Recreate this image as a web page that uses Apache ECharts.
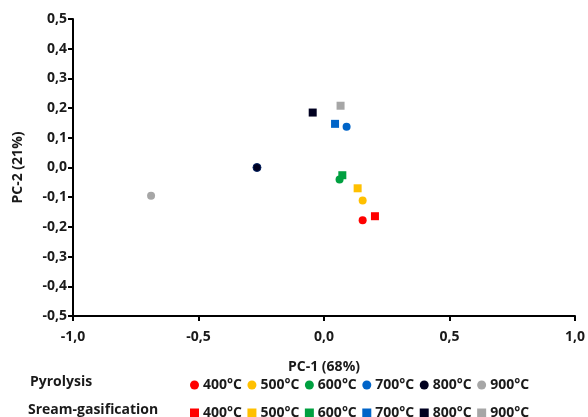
<!DOCTYPE html>
<html>
<head>
<meta charset="utf-8">
<script src="https://cdn.jsdelivr.net/npm/echarts@6/dist/echarts.min.js"></script>
<style>
  html, body { margin: 0; padding: 0; background: #fff; }
  #chart { width: 588px; height: 417px; }
</style>
</head>
<body>
<div id="chart"></div>
<script>
const temps = ['400°C', '500°C', '600°C', '700°C', '800°C', '900°C'];
const colors = ['#ff0000', '#ffc000', '#00a040', '#0064c8', '#000020', '#a6a6a6'];
// PC-1, PC-2 per temperature
const pyrolysis = [
  [0.154, -0.178],
  [0.154, -0.111],
  [0.062, -0.040],
  [0.090, 0.137],
  [-0.267, 0.0],
  [-0.689, -0.095]
];
const gasification = [
  [0.203, -0.164],
  [0.134, -0.070],
  [0.073, -0.026],
  [0.044, 0.147],
  [-0.045, 0.185],
  [0.066, 0.208]
];
const xTicks = [-1.0, -0.5, 0.0, 0.5, 1.0];
const yTicks = [-0.5, -0.4, -0.3, -0.2, -0.1, 0.0, 0.1, 0.2, 0.3, 0.4, 0.5];

const chart = echarts.init(document.getElementById('chart'));
const font = '"Open Sans", "Liberation Sans", sans-serif';
const txt = '#1a1a1a';
const comma = v => v.toFixed(1).replace('.', ',');

let series = [];
temps.forEach((t, i) => {
  series.push({
    name: 'P ' + t,
    type: 'scatter',
    symbol: 'circle',
    symbolSize: 8,
    itemStyle: {color: colors[i], opacity: 1, borderColor: i === 4 ? '#002060' : colors[i], borderWidth: i === 4 ? 1 : 0},
    emphasis: {disabled: true},
    data: [pyrolysis[i]],
    z: 3
  });
  series.push({
    name: 'G ' + t,
    type: 'scatter',
    symbol: 'rect',
    symbolSize: 8,
    itemStyle: {color: colors[i], opacity: 1},
    emphasis: {disabled: true},
    data: [gasification[i]],
    z: 2
  });
});

const legendBase = {
  orient: 'horizontal',
  left: 185,
  itemWidth: 9,
  itemHeight: 9,
  itemGap: 5.5,
  itemStyle: {borderWidth: 0},
  textStyle: {fontFamily: font, fontWeight: 'bold', fontSize: 14, color: txt, padding: [0, 0, 0, -1]},
  formatter: n => n.split(' ')[1],
  selectedMode: false
};

const option = {
  animation: false,
  grid: {left: 73, right: 13, top: 19, bottom: 101},
  xAxis: {
    type: 'value',
    min: xTicks[0],
    max: xTicks[xTicks.length - 1],
    interval: 0.5,
    name: 'PC-1 (68%)',
    nameLocation: 'middle',
    nameGap: 44,
    nameTextStyle: {fontFamily: font, fontWeight: 'bold', fontSize: 14, color: txt},
    axisLine: {onZero: false, lineStyle: {color: '#000', width: 2}},
    axisTick: {show: true, length: 5, lineStyle: {color: '#000', width: 2}},
    splitLine: {show: false},
    axisLabel: {formatter: comma, fontFamily: font, fontWeight: 'bold', fontSize: 14, color: txt, margin: 14}
  },
  yAxis: {
    type: 'value',
    min: yTicks[0],
    max: yTicks[yTicks.length - 1],
    interval: 0.1,
    name: 'PC-2 (21%)',
    nameLocation: 'middle',
    nameGap: 48,
    nameTextStyle: {fontFamily: font, fontWeight: 'bold', fontSize: 14, color: txt},
    axisLine: {onZero: false, lineStyle: {color: '#000', width: 2}},
    axisTick: {show: true, length: 5, lineStyle: {color: '#000', width: 2}},
    splitLine: {show: false},
    axisLabel: {formatter: comma, fontFamily: font, fontWeight: 'bold', fontSize: 14, color: txt, margin: 6}
  },
  legend: [
    Object.assign({}, legendBase, {top: 373, icon: 'circle', data: temps.map(t => 'P ' + t)}),
    Object.assign({}, legendBase, {top: 401, icon: 'rect', data: temps.map(t => 'G ' + t)})
  ],
  graphic: [
    {type: 'text', left: 30, top: 375, style: {text: 'Pyrolysis', font: 'bold 14px ' + font, fill: txt}},
    {type: 'text', left: 28, top: 403, style: {text: 'Sream-gasification', font: 'bold 14px ' + font, fill: txt}}
  ],
  series: series
};
chart.setOption(option);
</script>
</body>
</html>
